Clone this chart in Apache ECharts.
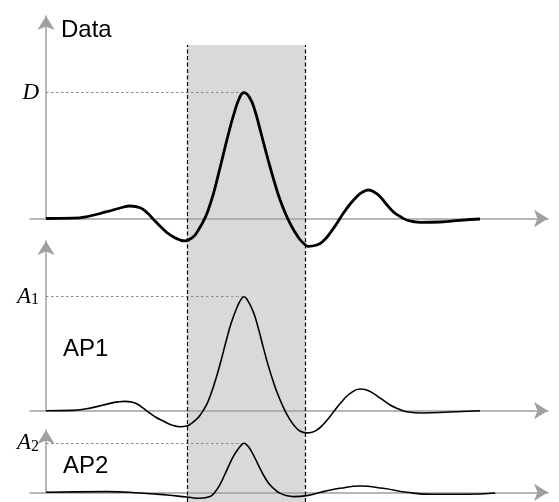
<!DOCTYPE html>
<html><head><meta charset="utf-8">
<script src="https://cdn.jsdelivr.net/npm/echarts@6/dist/echarts.min.js"></script>
<style>html,body{margin:0;padding:0;background:#fff}#c{width:559px;height:502px}</style>
</head><body><div id="c"></div>
<script>
// ---- data (time in arbitrary units, amplitude in arbitrary units) ----
const dataT = [0, 6.3, 10.1, 14.0, 17.1, 19.4, 21.7, 23.3, 24.7, 26.3, 27.8, 29.3, 30.9, 32.0, 33.9, 34.9, 36.3, 37.3, 38.6, 39.6, 40.9, 41.9, 43.2, 44.7, 45.6, 47.0, 48.2, 49.3, 50.5, 51.6, 52.8, 53.9, 55.1, 56.2, 57.4, 58.5, 59.4, 60.4, 62.4, 64.0, 65.4, 67.0, 68.5, 70.0, 71.6, 72.8, 74.3, 75.6, 77.0, 78.3, 80.0, 81.6, 83.1, 84.6, 86.2, 90.8, 95.4, 100];
const dataV = [0, 0.003, 0.025, 0.068, 0.105, 0.125, 0.108, 0.057, -0.006, -0.078, -0.138, -0.183, -0.215, -0.224, -0.184, -0.129, -0.024, 0.076, 0.252, 0.421, 0.648, 0.823, 1.031, 1.218, 1.258, 1.202, 1.07, 0.894, 0.696, 0.52, 0.34, 0.19, 0.058, -0.046, -0.138, -0.21, -0.25, -0.278, -0.265, -0.22, -0.148, -0.05, 0.052, 0.14, 0.218, 0.26, 0.285, 0.265, 0.218, 0.15, 0.068, 0.02, -0.015, -0.03, -0.038, -0.035, -0.018, -0.005];

const ap1T = [0, 6.3, 10.9, 14.7, 16.6, 18.2, 19.6, 20.9, 22.4, 24.0, 25.3, 27.0, 28.8, 30.9, 32.4, 33.2, 34.7, 35.5, 37.0, 38.0, 39.3, 40.3, 41.6, 42.6, 43.9, 44.9, 45.6, 46.5, 47.8, 48.8, 50.1, 51.1, 52.4, 53.5, 54.7, 55.8, 57.0, 58.5, 60.1, 61.3, 62.4, 63.6, 65.4, 66.8, 68.5, 70.0, 72.4, 73.7, 75.4, 77.2, 79.3, 81.1, 83.1, 86.9, 93.1, 100];
const ap1V = [0, 0.003, 0.033, 0.073, 0.088, 0.093, 0.088, 0.07, 0.025, -0.027, -0.065, -0.103, -0.14, -0.16, -0.153, -0.137, -0.084, -0.045, 0.06, 0.168, 0.342, 0.497, 0.712, 0.866, 1.022, 1.11, 1.14, 1.10, 0.983, 0.843, 0.628, 0.468, 0.286, 0.154, 0.034, -0.06, -0.138, -0.203, -0.222, -0.215, -0.193, -0.15, -0.06, 0.02, 0.107, 0.17, 0.217, 0.21, 0.173, 0.12, 0.057, 0.02, -0.01, -0.023, -0.013, 0];

const ap2T = [0, 14.0, 21.7, 27.8, 32.4, 35.5, 37.8, 38.9, 40.1, 41.2, 42.4, 43.3, 44.3, 44.9, 45.6, 46.3, 47.0, 48.2, 49.3, 50.5, 51.6, 52.8, 53.9, 55.5, 57.0, 60.1, 63.9, 67.7, 72.4, 77.7, 83.1, 89.2, 96.9, 103.5];
const ap2V = [0, 0.007, -0.007, -0.027, -0.047, -0.06, -0.043, 0.001, 0.079, 0.178, 0.292, 0.369, 0.434, 0.467, 0.49, 0.472, 0.434, 0.338, 0.239, 0.143, 0.075, 0.025, -0.008, -0.034, -0.043, -0.033, 0.007, 0.04, 0.063, 0.04, 0, -0.02, -0.02, -0.007];

const shadeRange = [32.56, 59.68];
const panelTitles = ['Data', 'AP1', 'AP2'];
const peakLabels = ['{d|D}', '{a|A}{s|1}', '{a|A}{s|2}'];

// ---- layout ----
const xMin = -3.69, xMax = 115.67;
const grids = [
  {left: 30, right: 11, top: 16, bottom: 283.5},
  {left: 30, right: 11, top: 241, bottom: 91.3},
  {left: 30, right: 11, top: 430, bottom: 9.7},
  {left: 30, right: 11, top: 45, bottom: 0}
];
const yMaxes = [2.025, 1.697, 0.623];
const axisColor = '#a0a0a0';

function zip(t, v) { return t.map((x, i) => [x, v[i]]); }
function peakOf(t, v) { let k = 0; v.forEach((y, i) => { if (y > v[k]) k = i; }); return [t[k], v[k]]; }

const xAxes = [], yAxes = [];
for (let i = 0; i < 3; i++) {
  xAxes.push({
    type: 'value', gridIndex: i, min: xMin, max: xMax, z: 2,
    axisLine: {show: true, onZero: true, symbol: ['none', 'arrow'], symbolSize: [13, 14],
      lineStyle: {color: axisColor, width: 1.5}},
    axisTick: {show: false}, axisLabel: {show: false}, splitLine: {show: false}
  });
  yAxes.push({
    type: 'value', gridIndex: i, min: 0, max: yMaxes[i], z: 2,
    axisLine: {show: true, onZero: true, symbol: ['none', 'arrow'], symbolSize: [13, 14],
      lineStyle: {color: axisColor, width: 1.5}},
    axisTick: {show: false}, axisLabel: {show: false}, splitLine: {show: false}
  });
}
xAxes.push({type: 'value', gridIndex: 3, min: xMin, max: xMax, show: false});
yAxes.push({type: 'value', gridIndex: 3, min: 0, max: 1, show: false});

const rich = {
  d: {fontFamily: 'Liberation Serif', fontStyle: 'italic', fontSize: 23, color: '#000', lineHeight: 23},
  a: {fontFamily: 'Liberation Serif', fontStyle: 'italic', fontSize: 23, color: '#000', lineHeight: 23, verticalAlign: 'top'},
  s: {fontFamily: 'Liberation Serif', fontSize: 16, color: '#000', lineHeight: 8, verticalAlign: 'bottom'}
};

const curves = [[dataT, dataV, 2.8], [ap1T, ap1V, 1.6], [ap2T, ap2V, 1.6]];
const series = curves.map(([t, v, w], i) => {
  const pk = peakOf(t, v);
  return {
    type: 'line', xAxisIndex: i, yAxisIndex: i, z: 3,
    data: zip(t, v), smooth: 0.5, showSymbol: false, clip: false, silent: true,
    lineStyle: {color: '#000', width: w},
    markLine: {
      silent: true, symbol: 'none', z: 3,
      lineStyle: {color: '#8c8c8c', type: [2.5, 2.5], width: 1},
      label: {show: true, position: 'start', distance: 7, formatter: peakLabels[i], rich: rich},
      emphasis: {disabled: true},
      data: [[{coord: [0, pk[1]]}, {coord: [pk[0], pk[1]]}]]
    }
  };
});
series.push({
  type: 'line', xAxisIndex: 3, yAxisIndex: 3, data: [[shadeRange[0], 0.5]],
  showSymbol: false, lineStyle: {opacity: 0}, silent: true,
  markArea: {silent: true, z: 1, itemStyle: {color: '#d9d9d9'},
    data: [[{xAxis: shadeRange[0]}, {xAxis: shadeRange[1]}]]},
  markLine: {silent: true, symbol: 'none', z: 5, label: {show: false},
    lineStyle: {color: '#000', type: [4, 2.5], width: 1.2},
    emphasis: {disabled: true},
    data: [{xAxis: shadeRange[0]}, {xAxis: shadeRange[1]}]}
});

const titlePos = [[61, 30], [63, 349], [63, 466]];
const graphic = panelTitles.map((txt, i) => ({
  type: 'text', x: titlePos[i][0], y: titlePos[i][1], z: 10,
  style: {text: txt, font: '24px "Liberation Sans", Arial, sans-serif', fill: '#000', verticalAlign: 'middle'}
}));

const chart = echarts.init(document.getElementById('c'), null, {renderer: 'canvas'});
chart.setOption({
  animation: false, backgroundColor: '#fff',
  grid: grids, xAxis: xAxes, yAxis: yAxes, series: series, graphic: graphic
});
</script>
</body></html>
